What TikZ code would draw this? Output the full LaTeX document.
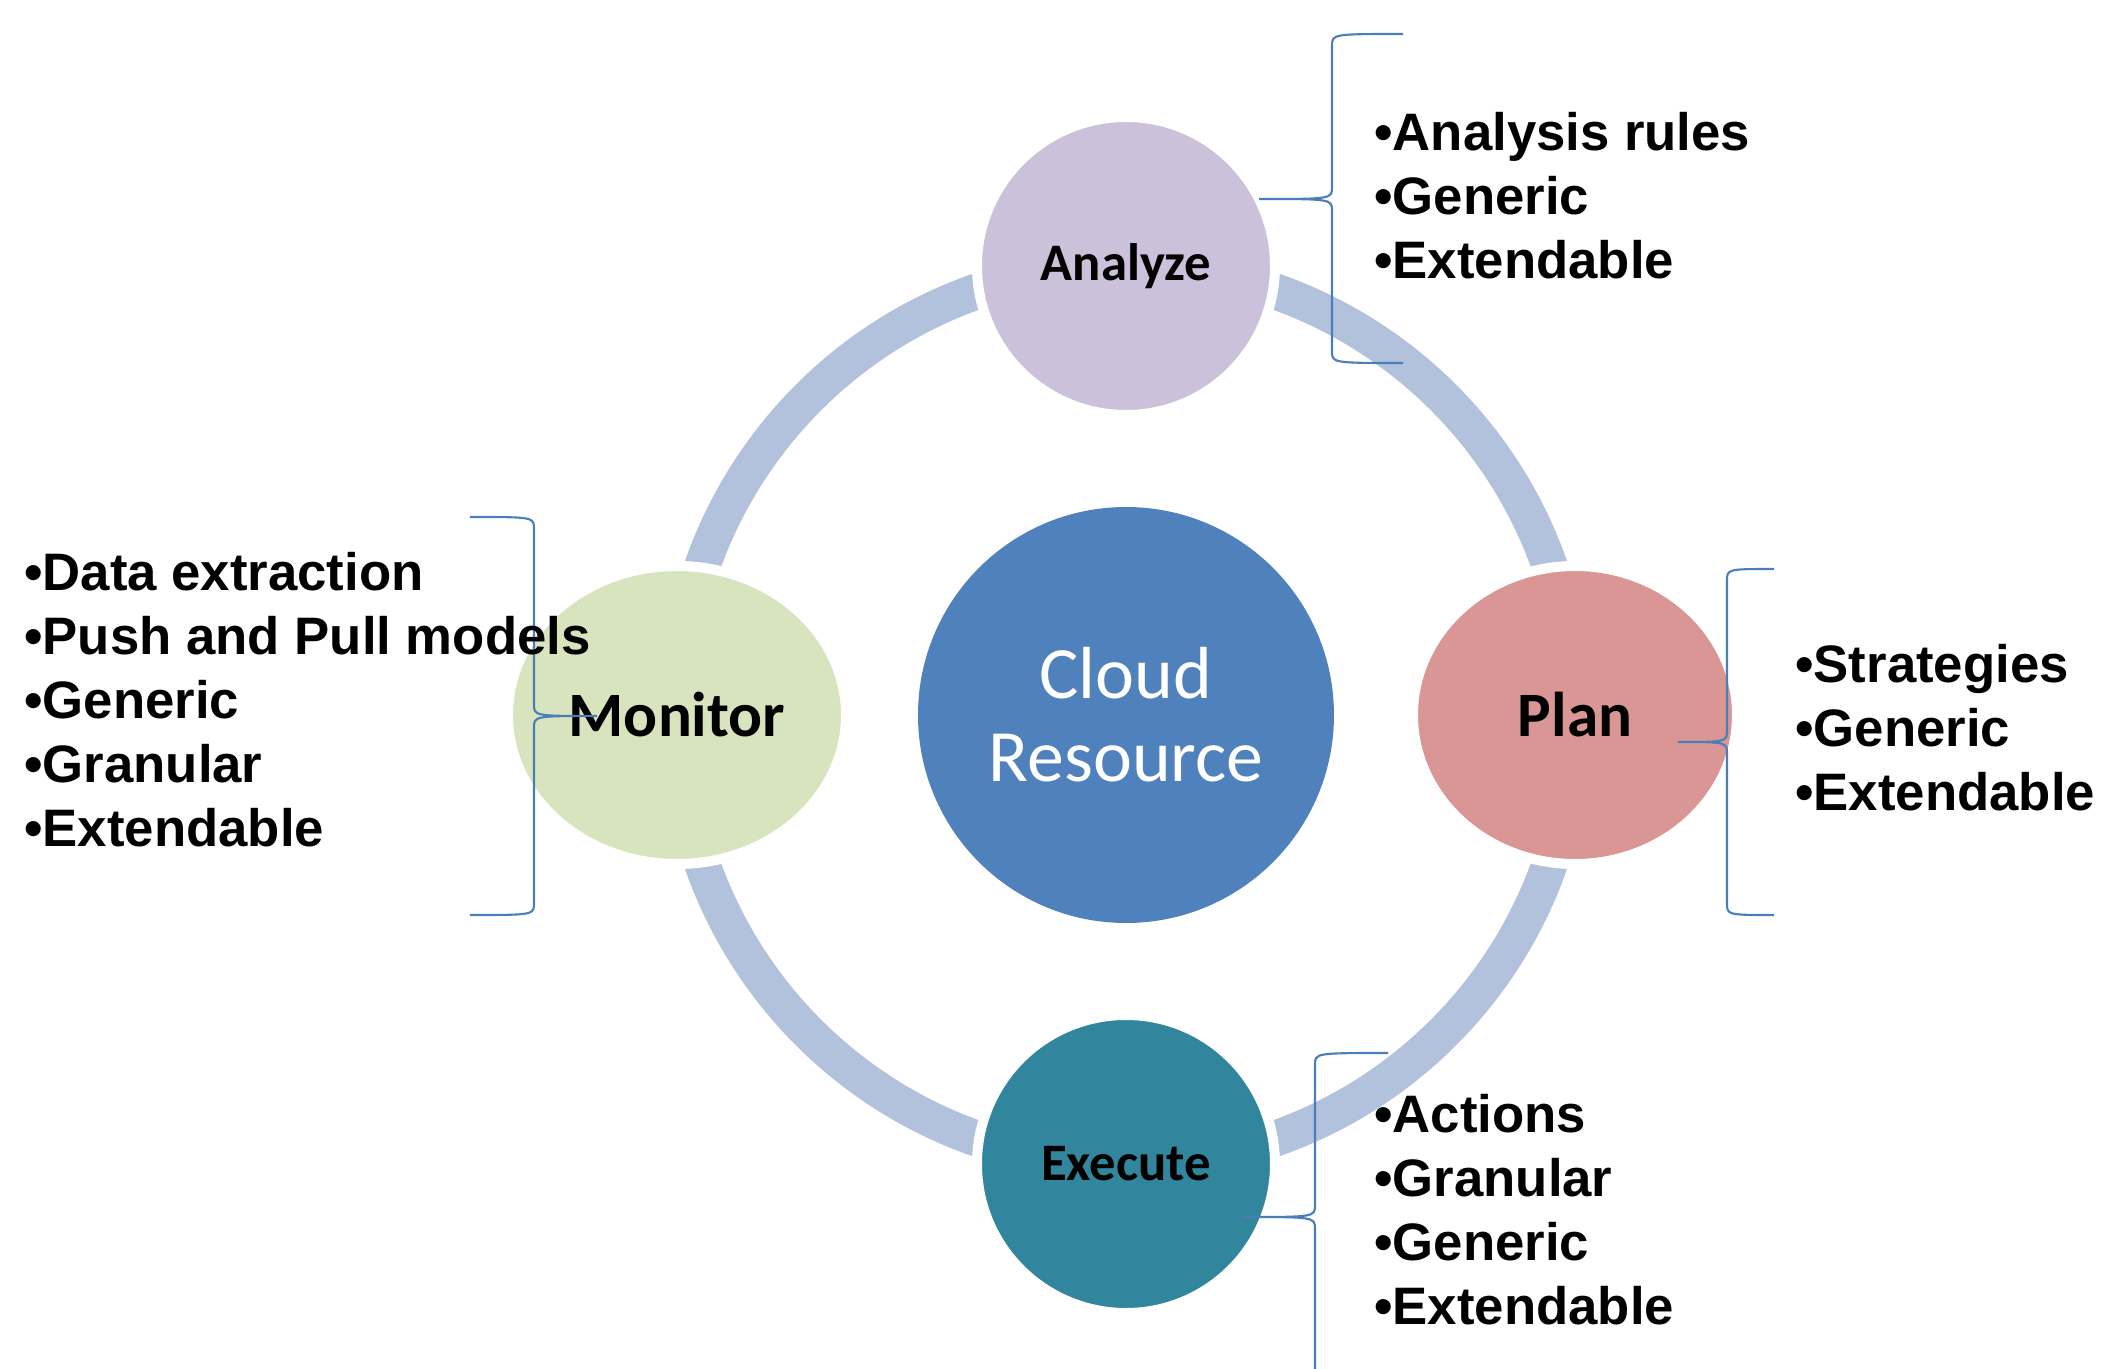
\documentclass[tikz,border=0pt]{standalone}
\usepackage{fontspec}
\setmainfont{Liberation Sans}
\newfontfamily\calibri{Carlito}
\usetikzlibrary{shapes.geometric}

\definecolor{ringblue}{HTML}{B2C2DD}
\definecolor{cloudblue}{HTML}{4F81BD}
\definecolor{analyzefill}{HTML}{CCC1DA}
\definecolor{monitorfill}{HTML}{D8E4BE}
\definecolor{planfill}{HTML}{D99694}
\definecolor{executefill}{HTML}{31859C}
\definecolor{braceline}{HTML}{4A7EBB}

\begin{document}
\begin{tikzpicture}
[line width=0.75pt,
hub/.style={circle, fill=cloudblue, text=white, inner sep=0pt, minimum size=41.6mm, align=center, font=\calibri\fontsize{21}{23.6}\selectfont},
phase/.style={ellipse, fill=#1, draw=white, line width=1mm, inner sep=0pt, minimum height=29.8mm},
bigname/.style={font=\calibri\bfseries\fontsize{18}{21}\selectfont},
smallname/.style={font=\calibri\bfseries\fontsize{15}{18}\selectfont},
ring/.style={draw=ringblue, line width=3.6mm},
items/.style={anchor=west, align=left, inner sep=0pt, font=\bfseries\fontsize{15}{18.2}\selectfont},
curly/.style={draw=braceline, line width=0.6pt}]

\useasboundingbox (-11.26,-6.53) rectangle (9.81,7.15);

\node[hub] (cloud) at (0,0) {Cloud\\Resource};
\draw[ring] (cloud.center) circle (4.49);

\node[phase=analyzefill, smallname, minimum width=29.8mm] (analyze) at (90:4.49) {Analyze};
\node[phase=monitorfill, bigname, minimum width=33.8mm] (monitor) at (180:4.49) {Monitor};
\node[phase=planfill, bigname, minimum width=32.4mm] (plan) at (0:4.49) {Plan};
\node[phase=executefill, smallname, minimum width=29.8mm] (execute) at (270:4.49) {Execute};

% braces: end x / spine x / tip x / top y / tip y / bottom y
\foreach \ex/\vx/\tx/\yt/\ty/\yb in {2.77/2.06/1.33/6.81/5.16/3.52, -6.56/-5.92/-5.29/1.98/-0.01/-2.00, 6.48/6.01/5.52/1.46/-0.27/-2.00, 2.62/1.89/1.16/-3.38/-5.02/-6.90} {
  \draw[curly] (\ex,\yt) .. controls (\vx,\yt) .. (\vx,\yt-0.12) -- (\vx,\ty+0.12)
    .. controls (\vx,\ty) .. (\tx,\ty) .. controls (\vx,\ty) .. (\vx,\ty-0.12)
    -- (\vx,\yb+0.12) .. controls (\vx,\yb) .. (\ex,\yb);
}

\node[items] (analyzelist) at (2.47,5.19) {•Analysis rules\\•Generic\\•Extendable};
\node[items] (monitorlist) at (-11.03,0.15) {•Data extraction\\•Push and Pull models\\•Generic\\•Granular\\•Extendable};
\node[items] (planlist) at (6.68,-0.13) {•Strategies\\•Generic\\•Extendable};
\node[items] (executelist) at (2.47,-4.95) {•Actions\\•Granular\\•Generic\\•Extendable};
\end{tikzpicture}
\end{document}
